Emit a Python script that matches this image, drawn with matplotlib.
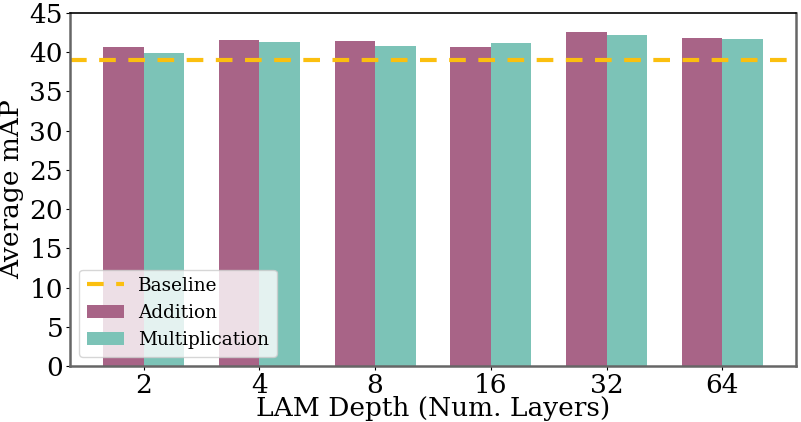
import matplotlib
matplotlib.use("Agg")
import matplotlib.pyplot as plt
import numpy as np

plt.rcParams['font.family'] = ['DejaVu Serif']

depths = ["2", "4", "8", "16", "32", "64"]
addition = [40.65, 41.55, 41.4, 40.65, 42.55, 41.8]
multiplication = [39.9, 41.3, 40.8, 41.15, 42.15, 41.65]
baseline = 38.95

fig = plt.figure(figsize=(8.01, 4.22), dpi=100)
ax = fig.add_axes([70/801, 1-366/422, (796-70)/801, (366-13)/422])

x = np.arange(len(depths))
w = 0.35
ax.bar(x - w/2, addition, w, color='#a86487', label='Addition')
ax.bar(x + w/2, multiplication, w, color='#7cc3b7', label='Multiplication')
ax.axhline(baseline, color='#fbbf0f', linestyle='--', linewidth=3, dashes=(4, 3), label='Baseline')

ax.set_ylim(0, 45)
ax.set_yticks(range(0, 46, 5))
ax.set_xticks(x)
ax.set_xticklabels(depths)
ax.tick_params(labelsize=19, length=3, pad=2)
ax.set_xlabel('LAM Depth (Num. Layers)', fontsize=19, labelpad=-1.5)
ax.set_ylabel('Average mAP', fontsize=19, labelpad=4)

for s in ['left', 'bottom', 'right']:
    ax.spines[s].set_color('#666666')
    ax.spines[s].set_linewidth(1.8)
ax.spines['top'].set_color('black')
ax.spines['top'].set_linewidth(1.2)

h, l = ax.get_legend_handles_labels()
idx = [l.index('Baseline'), l.index('Addition'), l.index('Multiplication')]
ax.legend([h[i] for i in idx], [l[i] for i in idx], loc='lower left', fontsize=13.3, framealpha=0.8)

fig.savefig('out.png', dpi=100)
